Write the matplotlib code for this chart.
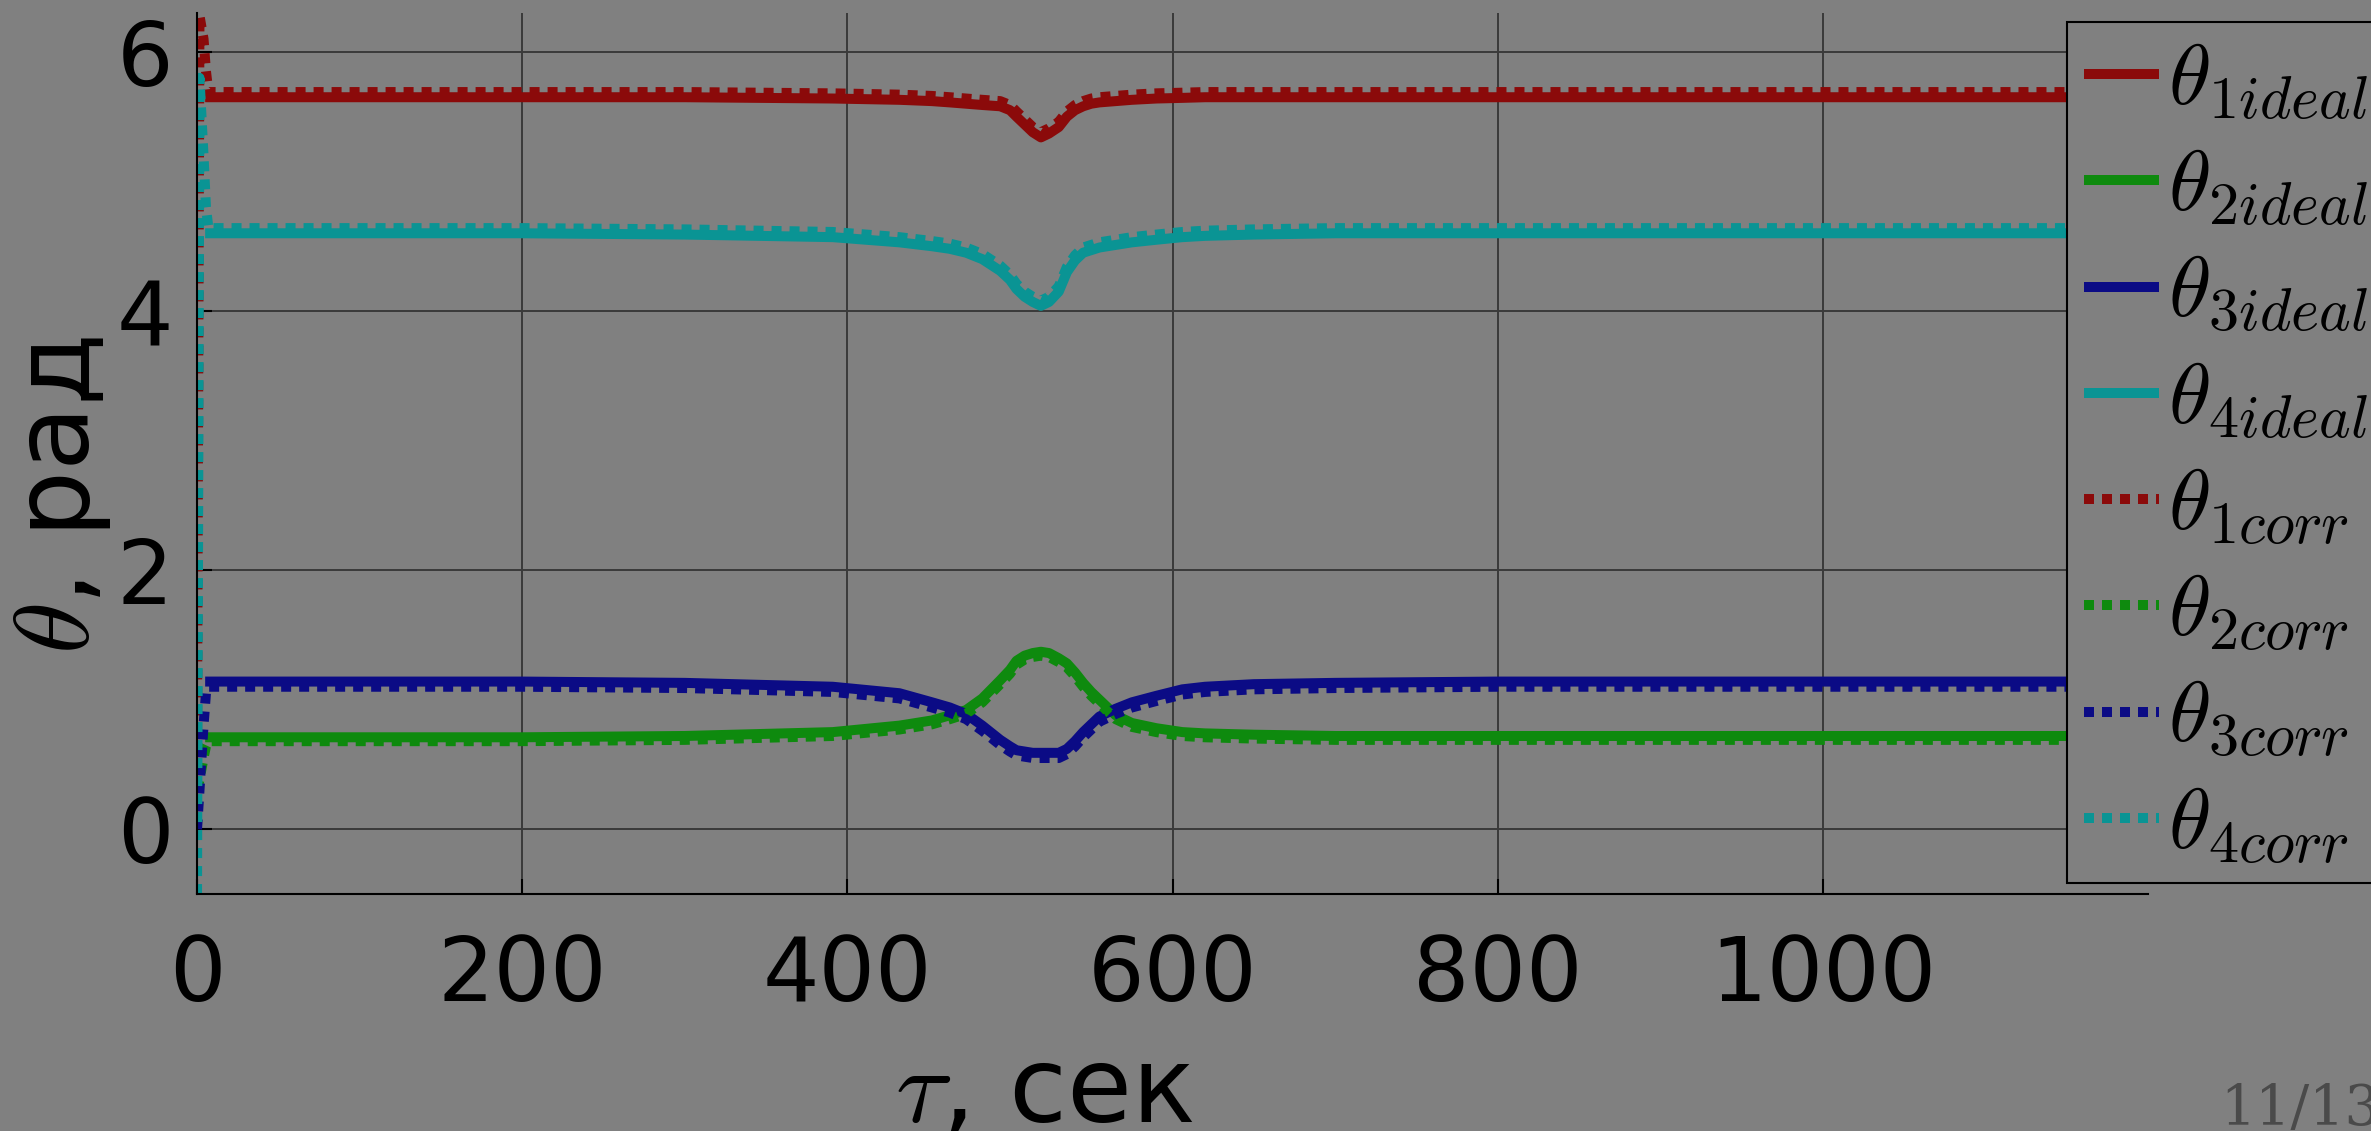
import matplotlib
matplotlib.use("Agg")
import matplotlib.pyplot as plt

plt.rcParams['mathtext.fontset'] = 'cm'
plt.rcParams['font.family'] = ['DejaVu Sans']

# --- данные ---
t_ideal = [5, 100, 200, 300, 391, 432, 452, 463, 473, 483, 494, 500, 504, 509, 514,
           519, 524, 530, 535, 540, 545, 550, 555, 565, 575, 590, 606, 620, 650, 700,
           800, 900, 1000, 1100, 1200]

th1_ideal = [5.65, 5.65, 5.65, 5.65, 5.64, 5.63, 5.62, 5.61, 5.60, 5.59, 5.58, 5.55, 5.50, 5.44, 5.38,
             5.34, 5.37, 5.42, 5.50, 5.55, 5.58, 5.60, 5.61, 5.62, 5.63, 5.64, 5.645, 5.65, 5.65, 5.65,
             5.65, 5.65, 5.65, 5.65, 5.65]
th2_ideal = [0.71, 0.71, 0.71, 0.72, 0.75, 0.80, 0.84, 0.88, 0.92, 1.01, 1.15, 1.23, 1.30, 1.34, 1.36,
             1.37, 1.36, 1.32, 1.28, 1.21, 1.13, 1.06, 1.00, 0.88, 0.82, 0.78, 0.75, 0.74, 0.73, 0.72,
             0.72, 0.72, 0.72, 0.72, 0.72]
th3_ideal = [1.14, 1.14, 1.14, 1.13, 1.10, 1.05, 0.98, 0.94, 0.89, 0.80, 0.69, 0.64, 0.61, 0.60, 0.59,
             0.59, 0.59, 0.59, 0.62, 0.68, 0.75, 0.81, 0.87, 0.93, 0.98, 1.03, 1.08, 1.10, 1.12, 1.13,
             1.14, 1.14, 1.14, 1.14, 1.14]
th4_ideal = [4.60, 4.60, 4.60, 4.59, 4.57, 4.53, 4.50, 4.48, 4.45, 4.40, 4.31, 4.24, 4.17, 4.11, 4.07,
             4.04, 4.07, 4.15, 4.30, 4.39, 4.45, 4.47, 4.49, 4.51, 4.53, 4.55, 4.57, 4.58, 4.59, 4.60,
             4.60, 4.60, 4.60, 4.60, 4.60]

# начальный переходный процесс для скорректированных углов
t_start = [0, 1.5, 4, 5.5]
th1_start = [0.74, 6.28, 6.10, 5.85]
th2_start = [0.30, 0.38, 0.55, 0.64]
th3_start = [0.00, 0.30, 0.80, 1.05]
th4_start = [-0.50, 5.80, 5.20, 4.80]

off1, off2, off3, off4 = 0.04, -0.03, -0.04, 0.04

t_corr = t_start + [7] + t_ideal[1:]
th1_corr = th1_start + [v + off1 for v in th1_ideal]
th2_corr = th2_start + [v + off2 for v in th2_ideal]
th3_corr = th3_start + [v + off3 for v in th3_ideal]
th4_corr = th4_start + [v + off4 for v in th4_ideal]

colors = ['#8b0a0a', '#0e8a0e', '#0b0b85', '#0a9494']
bg = '#808080'

fig = plt.figure(figsize=(23.71, 11.31), dpi=100, facecolor=bg)
ax = fig.add_axes([0.0831, 0.2095, 0.906 - 0.0831, 0.9885 - 0.2095])
ax.set_facecolor(bg)

ideal = [th1_ideal, th2_ideal, th3_ideal, th4_ideal]
corr = [th1_corr, th2_corr, th3_corr, th4_corr]
for i in range(4):
    ax.plot(t_ideal, ideal[i], color=colors[i], lw=7.2, solid_capstyle='butt',
            label=r'$\theta_{%d ideal}$' % (i + 1))
for i in range(4):
    ax.plot(t_corr, corr[i], color=colors[i], lw=7.2, linestyle=(0, (1, 0.8)),
            dash_capstyle='butt', label=r'$\theta_{%d corr}$' % (i + 1))

ax.set_xlim(0, 1200)
ax.set_ylim(-0.5, 6.3)
ax.set_xticks([0, 200, 400, 600, 800, 1000])
ax.set_yticks([0, 2, 4, 6])
ax.grid(True, color='#3a3a3a', lw=1.4)
ax.set_axisbelow(True)
for s in ['top', 'right']:
    ax.spines[s].set_visible(False)
for s in ['left', 'bottom']:
    ax.spines[s].set_color('black')
    ax.spines[s].set_linewidth(1.5)
ax.tick_params(direction='in', length=11, width=1.5, colors='black', labelsize=64)
ax.tick_params(axis='x', pad=28)
ax.tick_params(axis='y', pad=17)

ax.set_xlabel(r'$\tau$, сек', fontsize=76)
ax.set_ylabel(r'$\theta$, рад', fontsize=76)
ax.xaxis.set_label_coords(0.434, -0.168)
ax.yaxis.set_label_coords(-0.043, 0.453)

leg = fig.legend(loc='upper left', bbox_to_anchor=(2067 / 2371, 1 - 22 / 1131),
                 fontsize=62, frameon=True, handlelength=0.87, handletextpad=0.1,
                 labelspacing=0.27, borderpad=0.2, borderaxespad=0.0)
leg.get_frame().set_facecolor(bg)
leg.get_frame().set_edgecolor('black')
leg.get_frame().set_linewidth(1.5)
leg.get_frame().set_alpha(1)
leg.get_frame().set_boxstyle('square', pad=0)

fig.text(2220 / 2371, 6 / 1131, '11/13', fontsize=40, color='#4a4a4a',
         family='DejaVu Serif', va='baseline', ha='left')

fig.savefig('out.png', dpi=100, facecolor=bg)
